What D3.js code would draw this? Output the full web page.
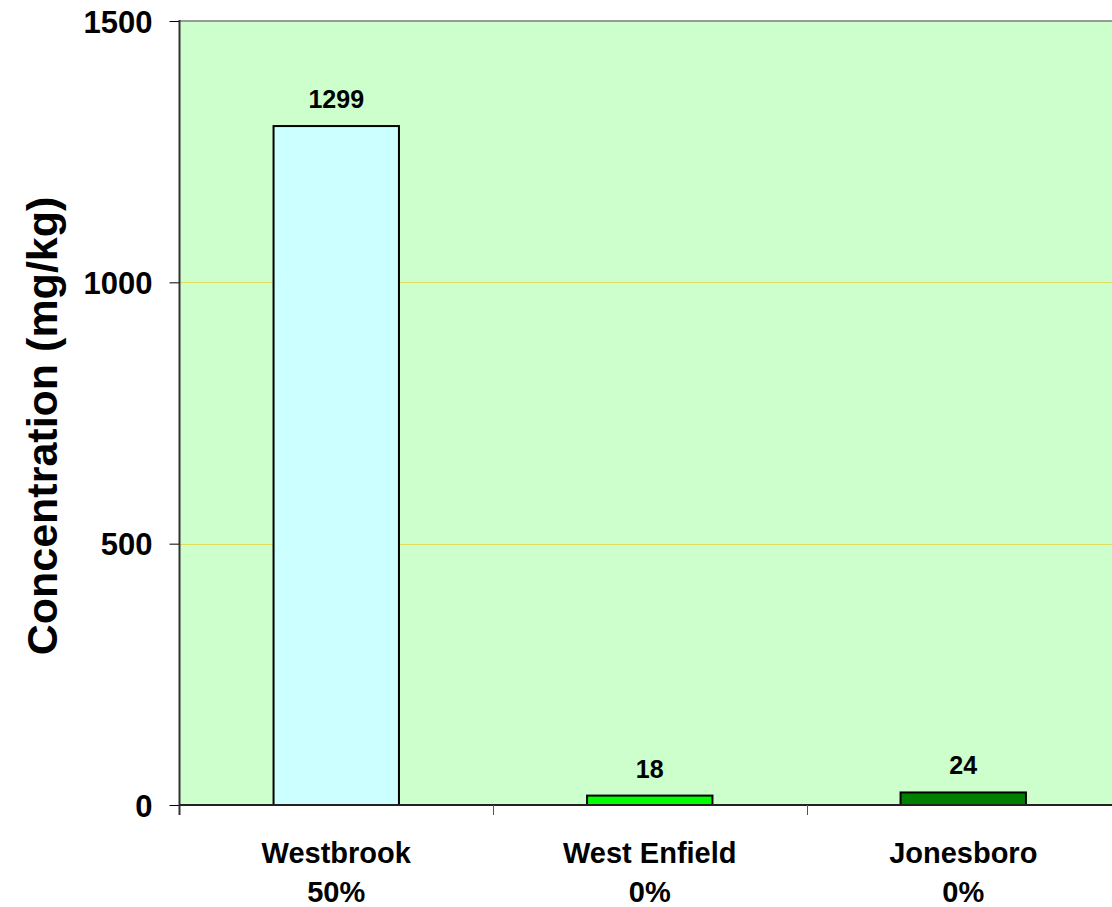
<!DOCTYPE html>
<html>
<head>
<meta charset="utf-8">
<script src="https://cdn.jsdelivr.net/npm/d3@7"></script>
<style>
  html, body { margin: 0; padding: 0; background: #ffffff; overflow: hidden; }
  svg { display: block; font-family: "Liberation Sans", Arial, sans-serif; font-weight: bold; }
</style>
</head>
<body>
<svg id="chart" width="1112" height="907"></svg>
<script>
// Sites, their concentrations and the percentage shown under each site name
const sites = ["Westbrook", "West Enfield", "Jonesboro"];
const percents = ["50%", "0%", "0%"];
const concentrations = [1299, 18, 24];
const barColors = ["#ccffff", "#00ff00", "#008000"];
const yTicks = [0, 500, 1000, 1500];
const yTitle = "Concentration (mg/kg)";

const svg = d3.select("#chart");
const plot = { left: 179.5, right: 1120, top: 21, bottom: 805 };

const x = d3.scaleBand().domain(sites).range([plot.left, plot.right]).padding(0);
const y = d3.scaleLinear().domain([0, 1500]).range([plot.bottom, plot.top]);

// plot background
svg.append("rect")
  .attr("x", plot.left).attr("y", plot.top)
  .attr("width", plot.right - plot.left).attr("height", plot.bottom - plot.top)
  .attr("fill", "#ccffcc");

// horizontal gridlines
svg.append("g")
  .selectAll("line")
  .data(yTicks.filter(t => t > 0 && t < 1500))
  .join("line")
  .attr("x1", plot.left).attr("x2", plot.right)
  .attr("y1", d => Math.round(y(d)) + 0.5).attr("y2", d => Math.round(y(d)) + 0.5)
  .attr("stroke", "#f0c000").attr("stroke-opacity", 0.55).attr("stroke-width", 1);

// top frame line
svg.append("line")
  .attr("x1", plot.left).attr("x2", plot.right)
  .attr("y1", plot.top).attr("y2", plot.top)
  .attr("stroke", "#999999").attr("stroke-width", 2);

// bars
const barW = x.bandwidth() * 0.4;
svg.append("g")
  .selectAll("rect")
  .data(sites)
  .join("rect")
  .attr("x", d => x(d) + (x.bandwidth() - barW) / 2)
  .attr("y", (d, i) => y(concentrations[i]))
  .attr("width", barW)
  .attr("height", (d, i) => y(0) - y(concentrations[i]))
  .attr("fill", (d, i) => barColors[i])
  .attr("stroke", "#000000").attr("stroke-width", 2);

// value labels
svg.append("g")
  .selectAll("text")
  .data(sites)
  .join("text")
  .attr("x", d => x(d) + x.bandwidth() / 2)
  .attr("y", (d, i) => y(concentrations[i]) - 18)
  .attr("text-anchor", "middle")
  .attr("font-size", 25)
  .attr("fill", "#000")
  .text((d, i) => concentrations[i]);

// y axis
const yAxis = svg.append("g")
  .attr("transform", `translate(${plot.left},0)`)
  .call(d3.axisLeft(y).tickValues(yTicks).tickSize(10).tickPadding(17).tickFormat(d3.format("d")));
yAxis.select(".domain").remove();
yAxis.selectAll(".tick line").attr("stroke", "#000").attr("stroke-width", 1);
yAxis.selectAll(".tick text")
  .attr("font-size", 31).attr("font-family", "'Liberation Sans', Arial, sans-serif")
  .attr("font-weight", "bold").attr("fill", "#000").attr("dy", "0.36em");
svg.append("line")
  .attr("x1", plot.left).attr("x2", plot.left)
  .attr("y1", plot.top - 1).attr("y2", plot.bottom + 10)
  .attr("stroke", "#333333").attr("stroke-width", 2);

// x axis line and category separators
svg.append("line")
  .attr("x1", plot.left).attr("x2", plot.right)
  .attr("y1", plot.bottom).attr("y2", plot.bottom)
  .attr("stroke", "#222222").attr("stroke-width", 2);
svg.append("g")
  .selectAll("line")
  .data(sites.slice(1))
  .join("line")
  .attr("x1", d => Math.round(x(d)) + 0.5).attr("x2", d => Math.round(x(d)) + 0.5)
  .attr("y1", plot.bottom).attr("y2", plot.bottom + 10)
  .attr("stroke", "#555555").attr("stroke-width", 1);

// category labels with percentages
const cat = svg.append("g")
  .selectAll("text")
  .data(sites)
  .join("text")
  .attr("text-anchor", "middle")
  .attr("font-size", 29)
  .attr("fill", "#000");
cat.append("tspan")
  .attr("x", d => x(d) + x.bandwidth() / 2)
  .attr("y", 863)
  .text(d => d);
cat.append("tspan")
  .attr("x", d => x(d) + x.bandwidth() / 2)
  .attr("y", 902)
  .text((d, i) => percents[i]);

// y axis title
svg.append("text")
  .attr("transform", `translate(57,426) rotate(-90)`)
  .attr("text-anchor", "middle")
  .attr("font-size", 43)
  .attr("fill", "#000")
  .text(yTitle);
</script>
</body>
</html>
